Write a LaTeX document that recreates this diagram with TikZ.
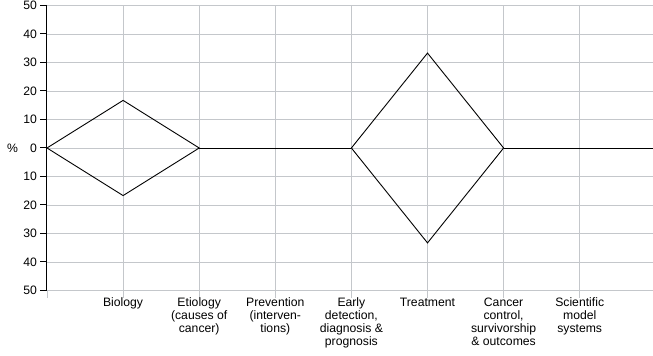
\documentclass[tikz,border=0pt]{standalone}
\usepackage{fontspec}
\setmainfont{Liberation Sans}
\definecolor{gridgray}{RGB}{196,199,203}
\begin{document}
\begin{tikzpicture}[x=76.1pt,y=2.85pt,
    grid/.style={draw=gridgray, line width=0.8pt},
    axis/.style={draw=black, line width=1pt},
    curve/.style={draw=black, line width=0.9pt},
    catlabel/.style={anchor=north, align=center, font=\fontsize{12.2}{12.8}\selectfont, inner sep=0pt},
    numlabel/.style={anchor=east, font=\fontsize{12.2}{13}\selectfont, inner sep=0pt}]
  \useasboundingbox (-0.6176,51.93) rectangle (7.9632,-72.98);
  % horizontal grid lines and tick labels
  \foreach \v/\t in {50/50, 40/40, 30/30, 20/20, 10/10, 0/0, -10/10, -20/20, -30/30, -40/40, -50/50}{
      \draw[grid] (0,\v) -- (7.9632,\v);
      \draw[axis] (-0.09,\v) -- (0,\v);
      \node[numlabel] (n\v) at (-0.13,\v) {\t};
  }
  % vertical grid lines
  \foreach \k in {1,...,7}{
      \draw[grid] (\k,50) -- (\k,-52.6);
  }
  \draw[grid] (0,-50) -- (0,-52.6);
  \draw[axis] (0,50.2) -- (0,-50.2);
  \node[numlabel] (pct) at (-0.38,0) {\%};
  % category labels
  \node[catlabel] (c1) at (1,-52.6) {Biology};
  \node[catlabel] (c2) at (2,-52.6) {Etiology\\(causes of\\cancer)};
  \node[catlabel] (c3) at (3,-52.6) {Prevention\\(interven-\\tions)};
  \node[catlabel] (c4) at (4,-52.6) {Early\\detection,\\diagnosis \&\\prognosis};
  \node[catlabel] (c5) at (5,-52.6) {Treatment};
  \node[catlabel] (c6) at (6,-52.6) {Cancer\\control,\\survivorship\\\& outcomes};
  \node[catlabel] (c7) at (7,-52.6) {Scientific\\model\\systems};
  % data points
  \coordinate (p0) at (0,0);
  \coordinate (p1t) at (1,16.7);
  \coordinate (p1b) at (1,-16.7);
  \coordinate (p2) at (2,0);
  \coordinate (p4) at (4,0);
  \coordinate (p5t) at (5,33.3);
  \coordinate (p5b) at (5,-33.3);
  \coordinate (p6) at (6,0);
  \coordinate (pend) at (7.9632,0);
  \draw[curve] (p0) -- (p1t) -- (p2) -- (p1b) -- cycle;
  \draw[curve] (p2) -- (p4);
  \draw[curve] (p4) -- (p5t) -- (p6) -- (p5b) -- cycle;
  \draw[curve] (p6) -- (pend);
\end{tikzpicture}
\end{document}
